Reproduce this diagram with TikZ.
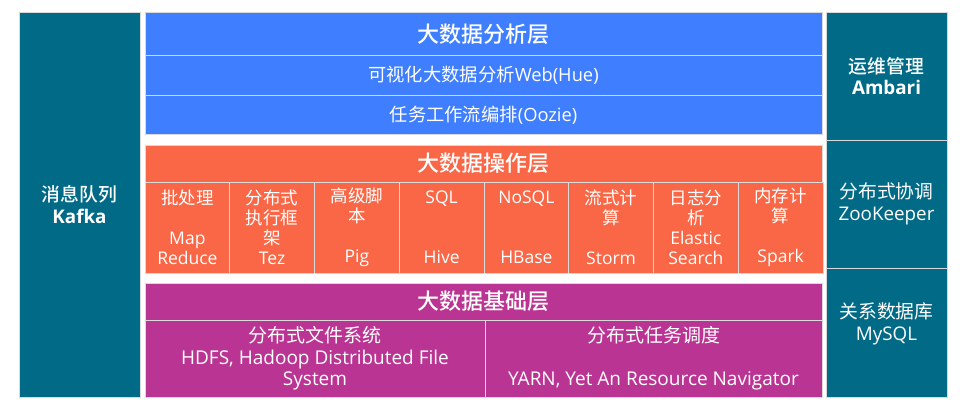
\documentclass[tikz,border=0pt]{standalone}
\usepackage{fontspec}
\setmainfont{Open Sans}
\newfontfamily\zh{Noto Sans CJK SC}
\newfontfamily\zhtitle{Noto Sans CJK SC}[UprightFont={* Medium}]
\usetikzlibrary{positioning}

\definecolor{anablue}{RGB}{63,127,255}
\definecolor{opred}{RGB}{249,103,70}
\definecolor{basepurple}{RGB}{186,53,147}
\definecolor{opsteal}{RGB}{0,106,135}

\begin{document}
\begin{tikzpicture}[x=1pt,y=-1pt,
	box/.style={draw=white!85!black, line width=0.8pt, inner sep=0pt, outer sep=0pt,
		text=white, anchor=north west, align=center},
	side/.style={box, fill=opsteal, minimum width=121pt, font=\fontsize{18.8}{21.5}\selectfont},
	title/.style={box, minimum width=677pt, font=\fontsize{22}{26}\selectfont\zhtitle},
	row/.style={box, minimum width=677pt, font=\fontsize{18.3}{20}\selectfont},
	cell/.style={box, fill=opred, minimum width=84.75pt, minimum height=91pt,
		font=\fontsize{17.5}{20}\selectfont},
	half/.style={box, fill=basepurple, minimum height=77pt,
		font=\fontsize{19}{21.5}\selectfont}]

	\useasboundingbox (0,0) rectangle (973,410);

	% side columns
	\node[side, minimum height=385pt] (kafka) at (19,12) {{\zhtitle 消息队列}\\\textbf{Kafka}};

	\node[side, minimum height=128pt] (ambari) at (826,12) {{\zhtitle 运维管理}\\\textbf{Ambari}};
	\node[side, minimum height=128pt] (zk) at (ambari.south west) {{\zh 分布式协调}\\ZooKeeper};
	\node[side, minimum height=129pt] (mysql) at (zk.south west) {{\zh 关系数据库}\\MySQL\\~};

	% analysis layer
	\node[title, fill=anablue, minimum height=43.5pt] (ana) at (145,12) {大数据分析层};
	\node[row, fill=anablue, minimum height=40pt] (hue) at (ana.south west) {{\zh 可视化大数据分析}Web(Hue)};
	\node[row, fill=anablue, minimum height=38.5pt] (oozie) at (hue.south west) {{\zh 任务工作流编排}(Oozie)};

	% operation layer
	\node[title, fill=opred, minimum height=37pt] (op) at (145,145) {大数据操作层};
	\node[cell] (mr) at (op.south west) {{\zh 批处理}\\~\\Map\\Reduce};
	\node[cell] (tez) at (mr.north east) {{\zh 分布式}\\{\zh 执行框}\\{\zh 架}\\Tez};
	\node[cell] (pig) at (tez.north east) {{\zh 高级脚}\\{\zh 本}\\~\\Pig};
	\node[cell] (hive) at (pig.north east) {SQL\\~\\~\\Hive};
	\node[cell] (hbase) at (hive.north east) {NoSQL\\~\\~\\HBase};
	\node[cell] (storm) at (hbase.north east) {{\zh 流式计}\\{\zh 算}\\~\\Storm};
	\node[cell] (es) at (storm.north east) {{\zh 日志分}\\{\zh 析}\\Elastic\\Search};
	\node[cell] (spark) at (es.north east) {{\zh 内存计}\\{\zh 算}\\~\\Spark};

	% base layer
	\node[title, fill=basepurple, minimum height=37pt] (base) at (145,283) {大数据基础层};
	\node[half, minimum width=340pt] (hdfs) at (base.south west)
		{{\zh 分布式文件系统}\\HDFS, Hadoop Distributed File\\System};
	\node[half, minimum width=337pt] (yarn) at (hdfs.north east)
		{{\zh 分布式任务调度}\\~\\YARN, Yet An Resource Navigator};

\end{tikzpicture}
\end{document}
